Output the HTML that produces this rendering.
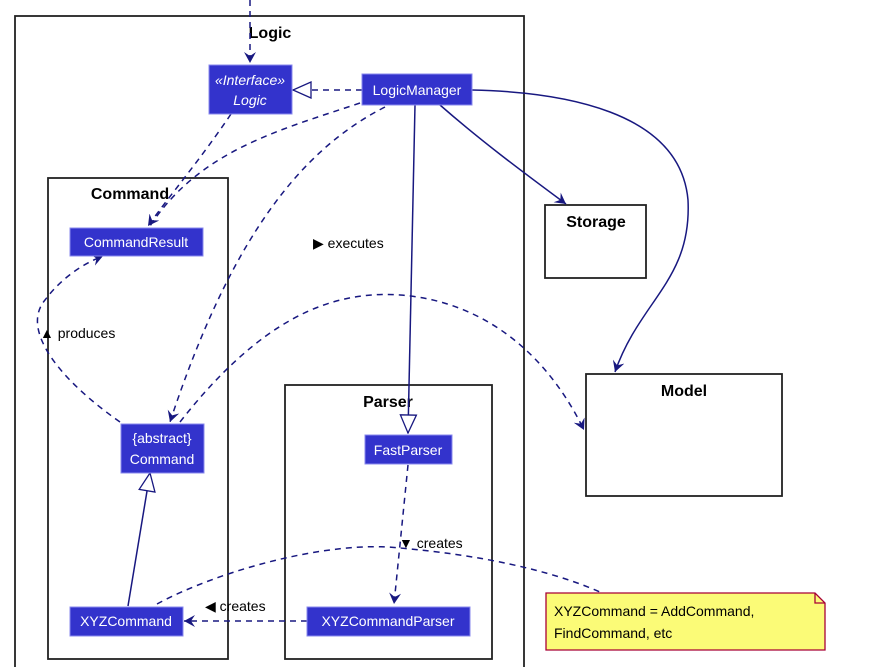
<!DOCTYPE html>
<html><head><style>body{margin:0;background:#fff}svg{display:block}text{font-family:"Liberation Sans",sans-serif}</style></head><body>
<svg width="876" height="667" viewBox="0 0 876 667" xmlns="http://www.w3.org/2000/svg">
<defs>
<marker id="a" viewBox="0 0 12 12" refX="11" refY="6" markerWidth="12" markerHeight="12" orient="auto" markerUnits="userSpaceOnUse"><path d="M0,0 L11,6 L0,12 L4,6 Z" fill="#181880"/></marker>
<marker id="o" viewBox="0 0 12 12" refX="11" refY="6" markerWidth="12" markerHeight="12" orient="auto" markerUnits="userSpaceOnUse"><path d="M0,0 L11,6 L0,12 L4,6 Z" fill="#181880"/></marker>
<marker id="t" viewBox="0 0 20 20" refX="19" refY="10" markerWidth="20" markerHeight="20" orient="auto" markerUnits="userSpaceOnUse"><path d="M1,2 L19,10 L1,18 Z" fill="#fff" stroke="#181880" stroke-width="1.3"/></marker>
</defs>
<g fill="none" stroke="#222" stroke-width="1.8">
<rect x="15" y="16" width="509" height="660"/>
<rect x="48" y="178" width="180" height="481"/>
<rect x="285" y="385" width="207" height="274"/>
<rect x="545" y="205" width="101" height="73"/>
<rect x="586" y="374" width="196" height="122"/>
</g>
<g font-weight="bold" font-size="16" text-anchor="middle" fill="#000">
<text x="270" y="38">Logic</text>
<text x="130" y="199">Command</text>
<text x="388" y="407">Parser</text>
<text x="596" y="227">Storage</text>
<text x="684" y="396">Model</text>
</g>
<g fill="none" stroke="#181880" stroke-width="1.5">
<path d="M250,0 V63" stroke-dasharray="6,5" marker-end="url(#o)"/>
<path d="M362,90 H293" stroke-dasharray="6,5" marker-end="url(#t)"/>
<path d="M231,114 C200,160 170,195 148,226" stroke-dasharray="6,5" marker-end="url(#o)"/>
<path d="M360,103 C280,130 200,150 150,226" stroke-dasharray="6,5"/>
<path d="M385,107 C300,150 230,240 170,422" stroke-dasharray="6,5" marker-end="url(#o)"/>
<path d="M180,422 C260,320 330,290 400,295 C470,300 540,340 584,430" stroke-dasharray="6,5" marker-end="url(#o)"/>
<path d="M120,422 C60,380 20,330 45,300 C60,280 80,265 103,256" stroke-dasharray="6,5" marker-end="url(#o)"/>
<path d="M415,105 L408,433" marker-end="url(#t)"/>
<path d="M440,105 C480,140 520,170 566,204" marker-end="url(#a)"/>
<path d="M472,90 C560,92 680,110 688,200 C692,280 640,300 615,372" marker-end="url(#a)"/>
<path d="M128,606 L150,473" marker-end="url(#t)"/>
<path d="M408,465 L394,604" stroke-dasharray="6,5" marker-end="url(#o)"/>
<path d="M307,621 H184" stroke-dasharray="6,5" marker-end="url(#o)"/>
<path d="M157,604 C220,570 330,540 400,548 C480,555 550,570 600,592" stroke-dasharray="6,5"/>
</g>
<g fill="#3333cc" stroke="#8888ee" stroke-width="1">
<rect x="209" y="65" width="83" height="49"/>
<rect x="362" y="74" width="110" height="31"/>
<rect x="70" y="228" width="133" height="28"/>
<rect x="121" y="424" width="83" height="49"/>
<rect x="70" y="607" width="113" height="29"/>
<rect x="365" y="435" width="87" height="29"/>
<rect x="307" y="607" width="163" height="29"/>
</g>
<g fill="#fff" font-size="14" text-anchor="middle">
<text x="250" y="85" font-style="italic">«Interface»</text>
<text x="250" y="105" font-style="italic">Logic</text>
<text x="417" y="95">LogicManager</text>
<text x="136" y="247">CommandResult</text>
<text x="162" y="443">{abstract}</text>
<text x="162" y="464">Command</text>
<text x="126" y="626">XYZCommand</text>
<text x="408" y="455">FastParser</text>
<text x="388" y="626">XYZCommandParser</text>
</g>
<g font-size="14" fill="#000">
<text x="313" y="248">▶ executes</text>
<text x="40" y="338">▲ produces</text>
<text x="399" y="548">▼ creates</text>
<text x="205" y="611">◀ creates</text>
</g>
<path d="M546,593 H815 L825,603 V650 H546 Z" fill="#fbfb77" stroke="#a80036" stroke-width="1.3"/>
<path d="M815,593 V603 H825" fill="none" stroke="#a80036" stroke-width="1.3"/>
<text x="554" y="616" font-size="14">XYZCommand = AddCommand,</text>
<text x="554" y="638" font-size="14">FindCommand, etc</text>
</svg>
</body></html>
